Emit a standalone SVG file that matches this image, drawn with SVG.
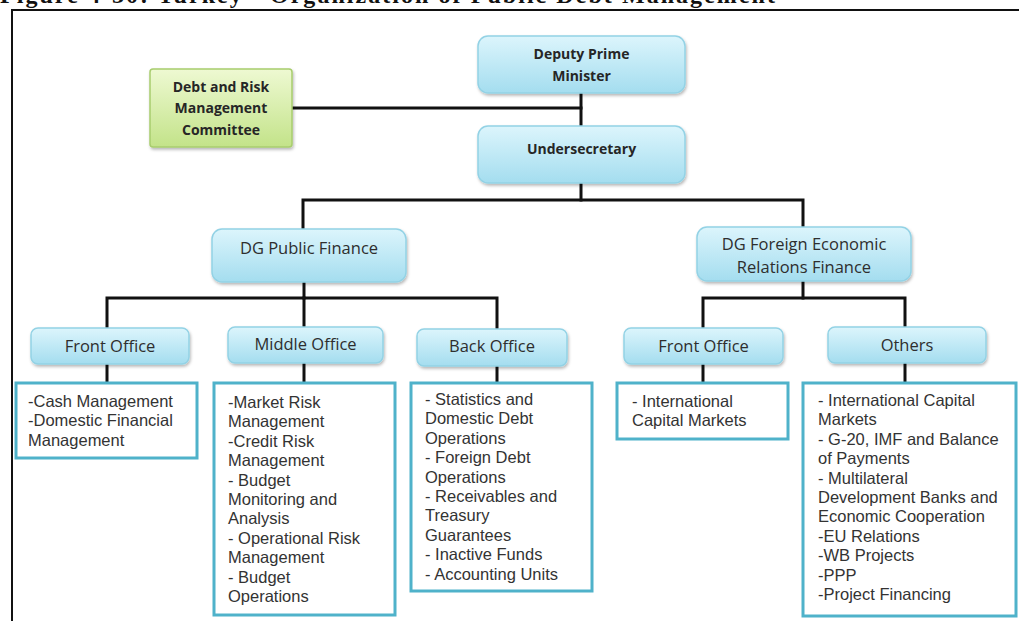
<svg xmlns="http://www.w3.org/2000/svg" width="1019" height="621" viewBox="0 0 1019 621">
  <defs>
    <linearGradient id="gBlue" x1="0" y1="0" x2="0" y2="1">
      <stop offset="0" stop-color="#dcf5fc"/>
      <stop offset="1" stop-color="#a4ddef"/>
    </linearGradient>
    <linearGradient id="gGreen" x1="0" y1="0" x2="0" y2="1">
      <stop offset="0" stop-color="#eef9d2"/>
      <stop offset="1" stop-color="#c3e389"/>
    </linearGradient>
    <filter id="shadow" x="-10%" y="-20%" width="125%" height="150%">
      <feDropShadow dx="1" dy="2" stdDeviation="1.5" flood-color="#000" flood-opacity="0.28"/>
    </filter>
  </defs>
  <style>
    .unit { fill: url(#gBlue); stroke: #93d2e5; stroke-width: 1.5; filter: url(#shadow); }
    .board { fill: url(#gGreen); stroke: #a8cd6e; stroke-width: 1.5; filter: url(#shadow); }
    .list { fill: #ffffff; stroke: #4fb2ca; stroke-width: 3; }
    .head { font-family: "Open Sans", "Liberation Sans", sans-serif; font-size: 14px; font-weight: bold; fill: #262626; text-anchor: middle; }
    .lbl { font-family: "Open Sans", "Liberation Sans", sans-serif; font-size: 16.5px; fill: #2e2e2e; text-anchor: middle; }
    .items { font-family: "Liberation Sans", Arial, sans-serif; font-size: 16.5px; fill: #333333; }
    .wire { fill: none; stroke: #111111; stroke-width: 3; stroke-linecap: square; }
    .frame { fill: none; stroke: #111111; stroke-width: 2; }
    .caption { font-family: "Liberation Serif", serif; font-size: 24px; font-weight: bold; fill: #111111; }
  </style>

  <rect width="1019" height="621" fill="#ffffff"/>

  <!-- caption and frame -->
  <text class="caption" x="0" y="2.5" textLength="775" lengthAdjust="spacing">Figure 4-30: Turkey - Organization of Public Debt Management</text>
  <path class="frame" d="M12,621 V10 H1019"/>

  <!-- connectors -->
  <g id="connectors">
    <path class="wire" d="M292,108 H581"/>
    <path class="wire" d="M581,93 V126"/>
    <path class="wire" d="M581,183 V200"/>
    <path class="wire" d="M303,229 V200 H803 V227"/>
    <path class="wire" d="M304,282 V298"/>
    <path class="wire" d="M107,328 V298 H497 V329"/>
    <path class="wire" d="M304,298 V327"/>
    <path class="wire" d="M803,281 V298"/>
    <path class="wire" d="M703,328 V298 H905 V327"/>
    <path class="wire" d="M107,364 V383"/>
    <path class="wire" d="M304,363 V383"/>
    <path class="wire" d="M497,366 V383"/>
    <path class="wire" d="M703,364 V383"/>
    <path class="wire" d="M905,363 V383"/>
  </g>

  <!-- top level -->
  <g id="deputy-prime-minister">
    <rect class="unit" x="478" y="36" width="207" height="57" rx="10"/>
    <text class="head" x="581.5" y="59">Deputy Prime</text>
    <text class="head" x="581.5" y="81">Minister</text>
  </g>
  <g id="debt-risk-committee">
    <rect class="board" x="150" y="69" width="142" height="78" rx="3"/>
    <text class="head" x="221" y="92">Debt and Risk</text>
    <text class="head" x="221" y="113">Management</text>
    <text class="head" x="221" y="135">Committee</text>
  </g>
  <g id="undersecretary">
    <rect class="unit" x="478" y="126" width="207" height="57" rx="10"/>
    <text class="head" x="581.5" y="154">Undersecretary</text>
  </g>

  <!-- directorates -->
  <g id="dg-public-finance">
    <rect class="unit" x="212" y="229" width="194" height="53" rx="10"/>
    <text class="lbl" x="309" y="254">DG Public Finance</text>
  </g>
  <g id="dg-foreign-economic">
    <rect class="unit" x="697" y="227" width="214" height="54" rx="10"/>
    <text class="lbl" x="804" y="250">DG Foreign Economic</text>
    <text class="lbl" x="804" y="273">Relations Finance</text>
  </g>

  <!-- offices -->
  <g id="pf-front-office">
    <rect class="unit" x="31" y="328" width="158" height="36" rx="7"/>
    <text class="lbl" x="110" y="352">Front Office</text>
  </g>
  <g id="pf-middle-office">
    <rect class="unit" x="228" y="327" width="155" height="36" rx="7"/>
    <text class="lbl" x="305.5" y="350">Middle Office</text>
  </g>
  <g id="pf-back-office">
    <rect class="unit" x="417" y="329" width="150" height="37" rx="7"/>
    <text class="lbl" x="492" y="352">Back Office</text>
  </g>
  <g id="fe-front-office">
    <rect class="unit" x="624" y="328" width="159" height="36" rx="7"/>
    <text class="lbl" x="703.5" y="352">Front Office</text>
  </g>
  <g id="fe-others">
    <rect class="unit" x="828" y="327" width="158" height="36" rx="7"/>
    <text class="lbl" x="907" y="351">Others</text>
  </g>

  <!-- duty lists -->
  <g id="pf-front-duties">
    <rect class="list" x="16" y="383" width="181" height="75"/>
    <text class="items">
      <tspan x="28" y="407">-Cash Management</tspan>
      <tspan x="28" dy="19.4">-Domestic Financial</tspan>
      <tspan x="28" dy="19.4">Management</tspan>
    </text>
  </g>
  <g id="pf-middle-duties">
    <rect class="list" x="214" y="383" width="181" height="232"/>
    <text class="items">
      <tspan x="228" y="408">-Market Risk</tspan>
      <tspan x="228" dy="19.4">Management</tspan>
      <tspan x="228" dy="19.4">-Credit Risk</tspan>
      <tspan x="228" dy="19.4">Management</tspan>
      <tspan x="228" dy="19.4">- Budget</tspan>
      <tspan x="228" dy="19.4">Monitoring and</tspan>
      <tspan x="228" dy="19.4">Analysis</tspan>
      <tspan x="228" dy="19.4">- Operational Risk</tspan>
      <tspan x="228" dy="19.4">Management</tspan>
      <tspan x="228" dy="19.4">- Budget</tspan>
      <tspan x="228" dy="19.4">Operations</tspan>
    </text>
  </g>
  <g id="pf-back-duties">
    <rect class="list" x="411" y="383" width="181" height="208"/>
    <text class="items">
      <tspan x="425" y="405">- Statistics and</tspan>
      <tspan x="425" dy="19.4">Domestic Debt</tspan>
      <tspan x="425" dy="19.4">Operations</tspan>
      <tspan x="425" dy="19.4">- Foreign Debt</tspan>
      <tspan x="425" dy="19.4">Operations</tspan>
      <tspan x="425" dy="19.4">- Receivables and</tspan>
      <tspan x="425" dy="19.4">Treasury</tspan>
      <tspan x="425" dy="19.4">Guarantees</tspan>
      <tspan x="425" dy="19.4">- Inactive Funds</tspan>
      <tspan x="425" dy="19.4">- Accounting Units</tspan>
    </text>
  </g>
  <g id="fe-front-duties">
    <rect class="list" x="617" y="383" width="171" height="56"/>
    <text class="items">
      <tspan x="632" y="407">- International</tspan>
      <tspan x="632" dy="19.4">Capital Markets</tspan>
    </text>
  </g>
  <g id="fe-others-duties">
    <rect class="list" x="803" y="383" width="213" height="233"/>
    <text class="items">
      <tspan x="818" y="406">- International Capital</tspan>
      <tspan x="818" dy="19.4">Markets</tspan>
      <tspan x="818" dy="19.4">- G-20, IMF and Balance</tspan>
      <tspan x="818" dy="19.4">of Payments</tspan>
      <tspan x="818" dy="19.4">- Multilateral</tspan>
      <tspan x="818" dy="19.4">Development Banks and</tspan>
      <tspan x="818" dy="19.4">Economic Cooperation</tspan>
      <tspan x="818" dy="19.4">-EU Relations</tspan>
      <tspan x="818" dy="19.4">-WB Projects</tspan>
      <tspan x="818" dy="19.4">-PPP</tspan>
      <tspan x="818" dy="19.4">-Project Financing</tspan>
    </text>
  </g>
</svg>
